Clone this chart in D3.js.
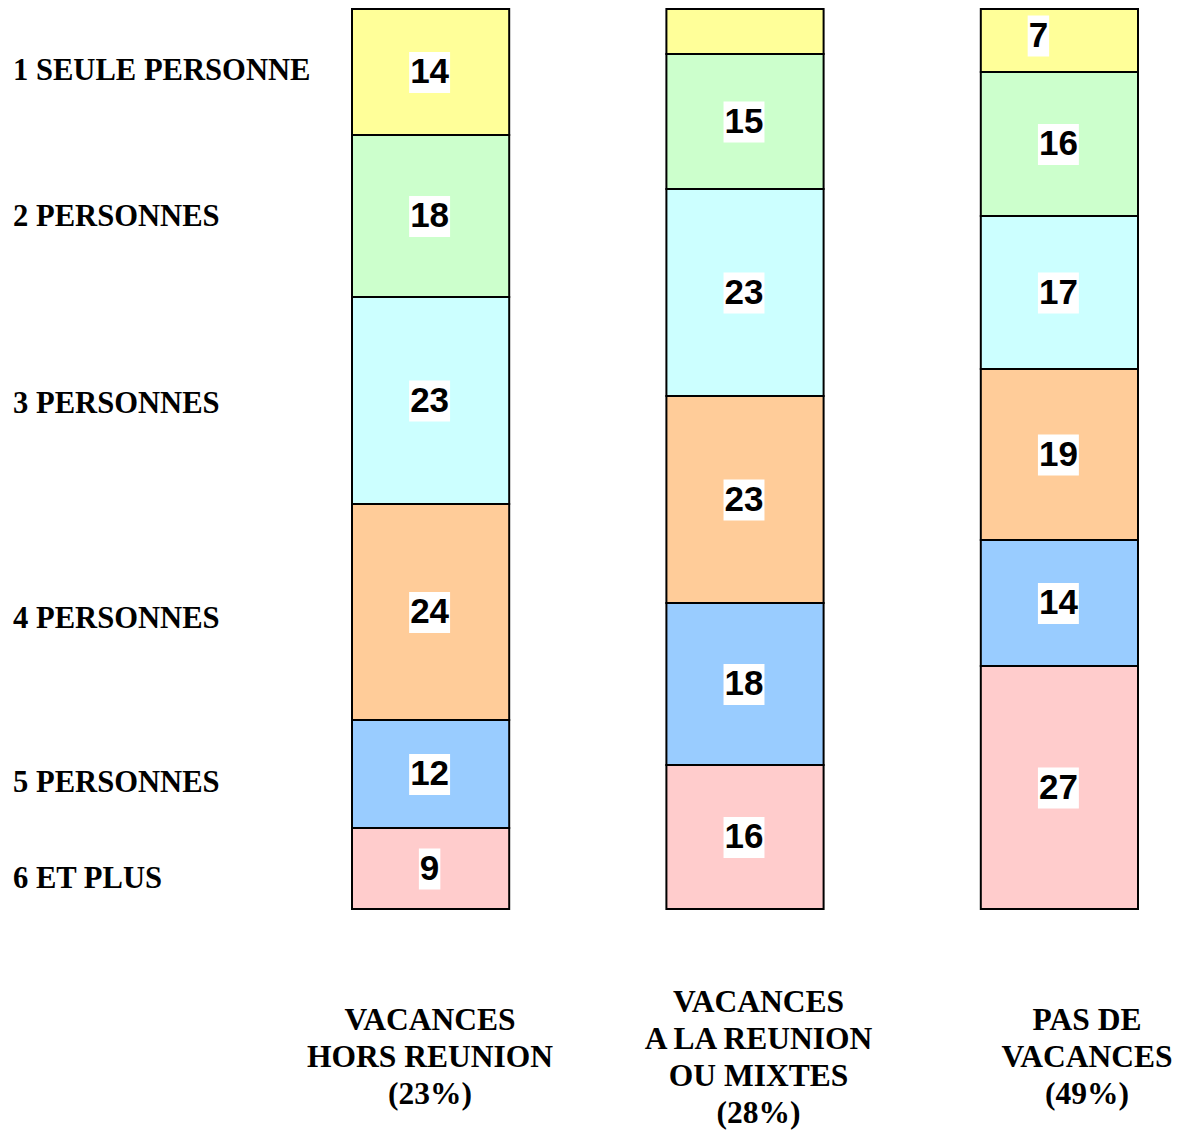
<!DOCTYPE html>
<html>
<head>
<meta charset="utf-8">
<script src="https://cdn.jsdelivr.net/npm/d3@7"></script>
<style>
  html, body { margin: 0; padding: 0; background: #fff; }
  svg { display: block; }
</style>
</head>
<body>
<svg id="chart" width="1184" height="1130"></svg>
<script>
// ---- data ----
const categories = ["1 SEULE PERSONNE", "2 PERSONNES", "3 PERSONNES", "4 PERSONNES", "5 PERSONNES", "6 ET PLUS"];
const groups = ["VACANCES HORS REUNION (23%)", "VACANCES A LA REUNION OU MIXTES (28%)", "PAS DE VACANCES (49%)"];
const groupLines = [
  ["VACANCES", "HORS REUNION", "(23%)"],
  ["VACANCES", "A LA REUNION", "OU MIXTES", "(28%)"],
  ["PAS DE", "VACANCES", "(49%)"]
];
const horsReunion = [14, 18, 23, 24, 12, 9];
const reunionMixtes = [5, 15, 23, 23, 18, 16];
const pasDeVacances = [7, 16, 17, 19, 14, 27];
const seriesByGroup = [horsReunion, reunionMixtes, pasDeVacances];
const colors = ["#FFFF99", "#CCFFCC", "#CCFFFF", "#FFCC99", "#99CCFF", "#FFCCCC"];

// ---- layout ----
const svg = d3.select("#chart");
const x = d3.scaleBand().domain(groups).range([352, 1138]).paddingInner(0.5).paddingOuter(0);
const y = d3.scaleLinear().domain([0, 100]).range([9, 909]);
const labelY = d3.scaleLinear().domain([0, 100]).range([6, 919]);
const groupLabelX = d3.scalePoint().domain(groups).range([430, 1087]);
const color = d3.scaleOrdinal().domain(categories).range(colors);

// stack
const table = categories.map((c, i) => {
  const row = { category: c };
  groups.forEach((g, gi) => row[g] = seriesByGroup[gi][i]);
  return row;
});
const segs = [];
groups.forEach((g, gi) => {
  let acc = 0;
  table.forEach(row => {
    segs.push({ group: g, category: row.category, value: row[g], y0: acc, y1: acc + row[g] });
    acc += row[g];
  });
});

// special nudge for the small label in the third bar
const nudge = { "PAS DE VACANCES (49%)|1 SEULE PERSONNE": [-20, -5] };

svg.append("g").selectAll("rect")
  .data(segs).join("rect")
  .attr("x", d => x(d.group))
  .attr("y", d => y(d.y0))
  .attr("width", x.bandwidth())
  .attr("height", d => y(d.y1) - y(d.y0))
  .attr("fill", d => color(d.category))
  .attr("stroke", "#000")
  .attr("stroke-width", 2);

// value labels
const lab = svg.append("g").selectAll("g")
  .data(segs.filter(d => d.value > 5)).join("g")
  .attr("transform", d => {
    const n = nudge[d.group + "|" + d.category] || [0, 0];
    return `translate(${x(d.group) + x.bandwidth() / 2 - 1 + n[0]},${y((d.y0 + d.y1) / 2) + 11 + n[1]})`;
  });
lab.append("rect").attr("fill", "#fff");
lab.append("text")
  .attr("text-anchor", "middle")
  .attr("font-family", "'Liberation Sans', Arial, sans-serif")
  .attr("font-weight", "bold")
  .attr("font-size", 35)
  .attr("fill", "#000")
  .text(d => d.value);
lab.each(function() {
  const g = d3.select(this);
  const w = g.select("text").node().getComputedTextLength();
  g.select("rect").attr("x", -w / 2 - 1).attr("y", -31).attr("width", w + 2).attr("height", 41);
});

// category labels (left)
const bar1 = segs.filter(d => d.group === groups[0]);
svg.append("g").selectAll("text")
  .data(bar1).join("text")
  .attr("x", 13)
  .attr("y", d => labelY((d.y0 + d.y1) / 2) + 10)
  .attr("font-family", "'Liberation Serif', 'Times New Roman', serif")
  .attr("font-weight", "bold")
  .attr("font-size", 30.6)
  .attr("fill", "#000")
  .text(d => d.category);

// group labels (bottom)
const gl = svg.append("g").selectAll("text")
  .data(groups).join("text")
  .attr("text-anchor", "middle")
  .attr("font-family", "'Liberation Serif', 'Times New Roman', serif")
  .attr("font-weight", "bold")
  .attr("font-size", 31.5)
  .attr("fill", "#000");
gl.each(function(g, gi) {
  const lines = groupLines[gi];
  const t = d3.select(this);
  lines.forEach((ln, i) => {
    t.append("tspan")
      .attr("x", groupLabelX(g))
      .attr("y", 1057 + (i - (lines.length - 1) / 2) * 37 + 10)
      .text(ln);
  });
});
</script>
</body>
</html>
